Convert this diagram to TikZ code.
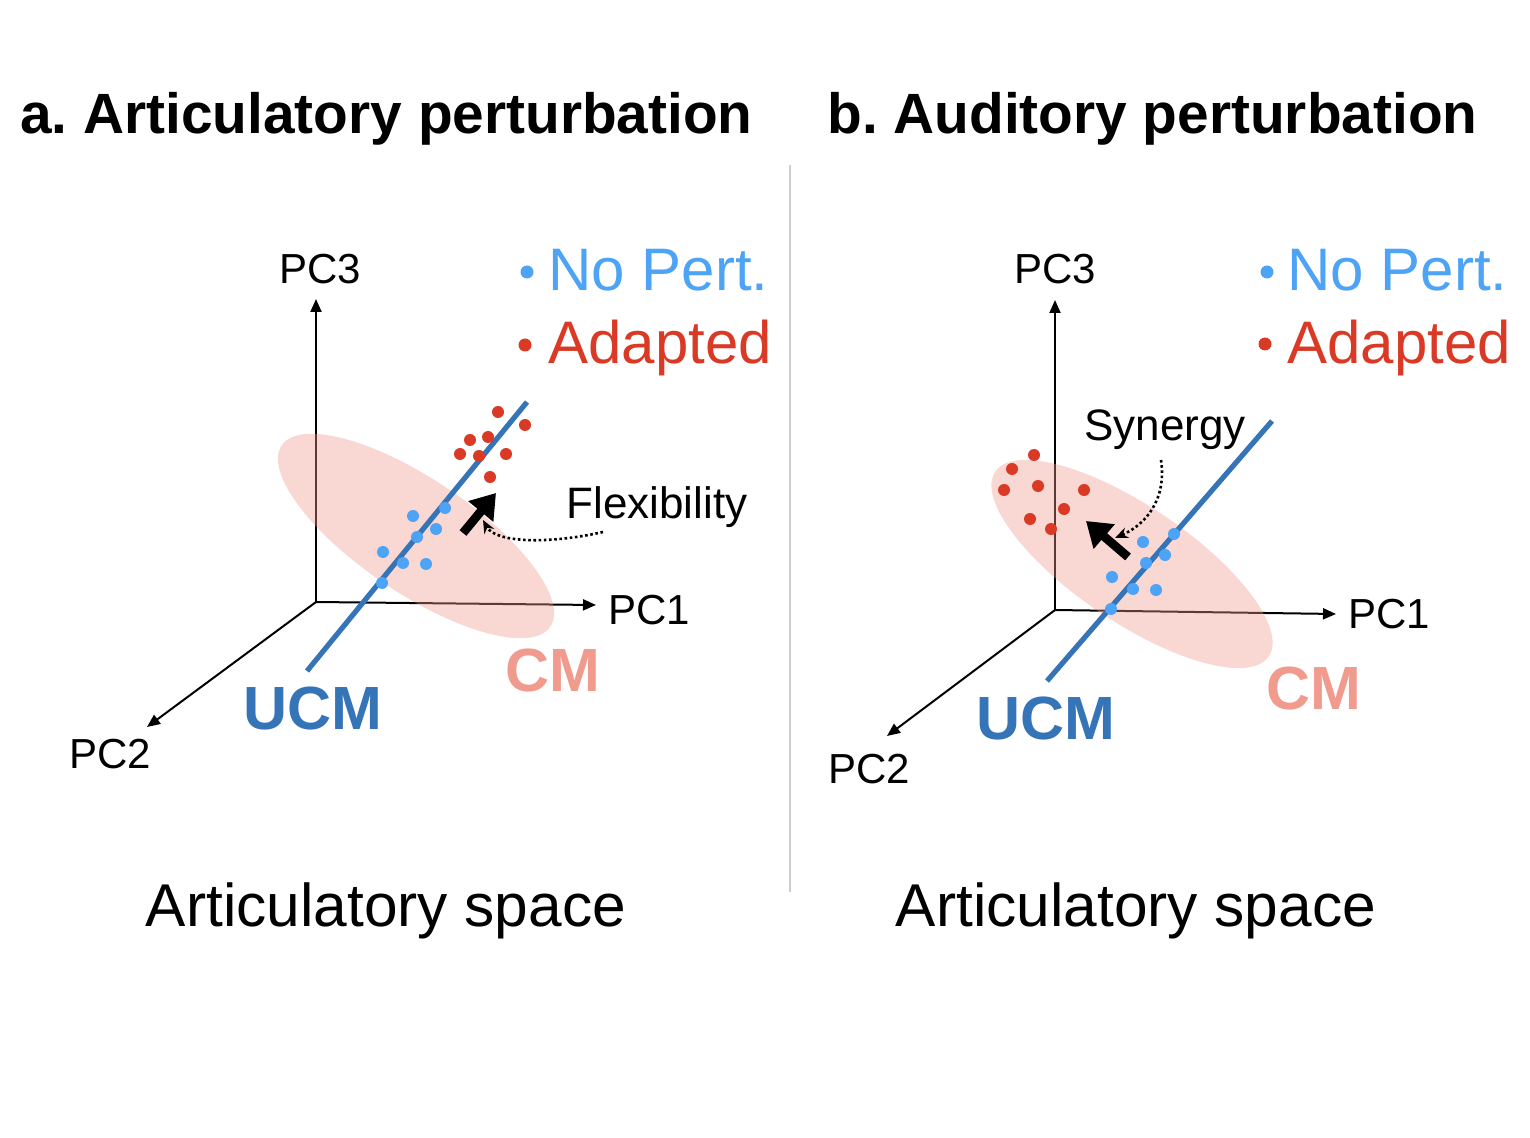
\documentclass[tikz,border=0pt]{standalone}
\usepackage{fontspec}
\setmainfont{Liberation Sans}
\usetikzlibrary{arrows.meta}
\frenchspacing
\definecolor{ucm}{RGB}{53,116,183}
\definecolor{bdot}{RGB}{77,163,245}
\definecolor{rdot}{RGB}{218,58,37}
\definecolor{cmlab}{RGB}{241,154,142}
\definecolor{ellc}{RGB}{240,150,140}
\definecolor{divc}{RGB}{205,205,205}
\begin{document}
\begin{tikzpicture}[x=0.5pt,y=-0.5pt,
  axis/.style={line width=1pt,-{Triangle[length=6.5pt,width=5.5pt]}},
  ucmline/.style={ucm,line width=2.6pt},
  cmell/.style={fill=ellc,fill opacity=0.38},
  bd/.style={fill=bdot},
  rd/.style={fill=rdot},
  bigarrow/.style={line width=4.4pt,-{Triangle[length=12pt,width=15.5pt]}},
  dotcurve/.style={line width=1.3pt,dash pattern=on 1.3pt off 1.3pt,-{Stealth[length=6.5pt,width=5.5pt]}},
  title/.style={font=\fontsize{28.4}{34}\selectfont\bfseries,inner sep=0pt},
  axlab/.style={font=\fontsize{21}{25}\selectfont,inner sep=0pt},
  note/.style={font=\fontsize{22}{26}\selectfont,inner sep=0pt},
  legb/.style={font=\fontsize{30}{36}\selectfont,text=bdot,inner sep=0pt},
  legr/.style={font=\fontsize{30}{36}\selectfont,text=rdot,inner sep=0pt},
  ucmlab/.style={font=\fontsize{30.5}{36}\selectfont\bfseries,text=ucm,inner sep=0pt},
  cmlab/.style={font=\fontsize{30.5}{36}\selectfont\bfseries,text=cmlab,inner sep=0pt},
  space/.style={font=\fontsize{30.2}{36}\selectfont,inner sep=0pt}]
\useasboundingbox[fill=white] (0,0) rectangle (1530,1138);

% titles
\node[title,anchor=base west] (ta) at (20,134) {a. Articulatory perturbation};
\node[title,anchor=base west] (tb) at (827,134) {b. Auditory perturbation};

% divider
\coordinate (d1) at (790,165);
\coordinate (d2) at (790,892);
\draw[divc,line width=1.2pt] (d1) -- (d2);

% ================= Panel a =================
\coordinate (Oa) at (316,602);
\coordinate (Za) at (316,299);
\coordinate (Xa) at (596,605);
\coordinate (Ya) at (147,727);
\draw[axis] (Oa) -- (Za);
\draw[axis] (Oa) -- (Xa);
\draw[axis] (Oa) -- (Ya);
\node[axlab] (pc3a) at (320,269) {PC3};
\node[axlab] (pc1a) at (649,610) {PC1};
\node[axlab] (pc2a) at (110,754) {PC2};

\fill[cmell,rotate around={-34:(416,536)}] (416,536) ellipse [x radius=162, y radius=57];

\coordinate (Ua1) at (307,671);
\coordinate (Ua2) at (527,402);
\draw[ucmline] (Ua1) -- (Ua2);

\foreach \p in {(445,508),(413,516),(436,529),(417,537),(383,552),(403,563),(426,564),(382,583)}
  \fill[bd] \p circle[radius=6];
\foreach \p in {(498,412),(525,425),(470,440),(488,437),(460,454),(479,456),(506,454),(490,477)}
  \fill[rd] \p circle[radius=6];

\coordinate (Aa1) at (463,533);
\coordinate (Aa2) at (496,493);
\draw[bigarrow] (Aa1) -- (Aa2);

\node[note] (flex) at (657,507) {Flexibility};
\coordinate (fa1) at (603,532);
\coordinate (fa2) at (483,520);
\draw[dotcurve] (fa1) .. controls (545,545) and (495,542) .. (fa2);

\fill[bdot] (527,272) circle[radius=6.5];
\node[legb,anchor=base west] (npa) at (548,291) {No Pert.};
\fill[rdot] (525,345) circle[radius=6.5];
\node[legr,anchor=base west] (ada) at (548,364) {Adapted};

\node[ucmlab] (ucma) at (313,708) {UCM};
\node[cmlab] (cma) at (553,670) {CM};
\node[space] (spa) at (386,911) {Articulatory space};

% ================= Panel b =================
\coordinate (Ob) at (1055,610);
\coordinate (Zb) at (1055,300);
\coordinate (Xb) at (1336,614);
\coordinate (Yb) at (887,736);
\draw[axis] (Ob) -- (Zb);
\draw[axis] (Ob) -- (Xb);
\draw[axis] (Ob) -- (Yb);
\node[axlab] (pc3b) at (1055,269) {PC3};
\node[axlab] (pc1b) at (1389,614) {PC1};
\node[axlab] (pc2b) at (869,769) {PC2};

\fill[cmell,rotate around={-34:(1132,564)}] (1132,564) ellipse [x radius=165, y radius=58];

\coordinate (Ub1) at (1047,681);
\coordinate (Ub2) at (1272,421);
\draw[ucmline] (Ub1) -- (Ub2);

\foreach \p in {(1174,534),(1143,542),(1165,555),(1146,563),(1112,577),(1133,589),(1156,590),(1111,609)}
  \fill[bd] \p circle[radius=6];
\foreach \p in {(1034,455),(1012,469),(1004,490),(1038,486),(1084,490),(1064,509),(1030,519),(1051,529)}
  \fill[rd] \p circle[radius=6];

\coordinate (Ab1) at (1128,557);
\coordinate (Ab2) at (1086,521);
\draw[bigarrow] (Ab1) -- (Ab2);

\node[note] (syn) at (1165,430) {Synergy};
\coordinate (sb1) at (1161,460);
\coordinate (sb2) at (1115,538);
\draw[dotcurve] (sb1) .. controls (1167,500) and (1145,525) .. (sb2);

\fill[bdot] (1267,272) circle[radius=6.5];
\node[legb,anchor=base west] (npb) at (1287,291) {No Pert.};
\fill[rdot] (1265,344) circle[radius=6.5];
\node[legr,anchor=base west] (adb) at (1287,364) {Adapted};

\node[ucmlab] (ucmb) at (1046,718) {UCM};
\node[cmlab] (cmb) at (1314,688) {CM};
\node[space] (spb) at (1136,911) {Articulatory space};
\end{tikzpicture}
\end{document}
